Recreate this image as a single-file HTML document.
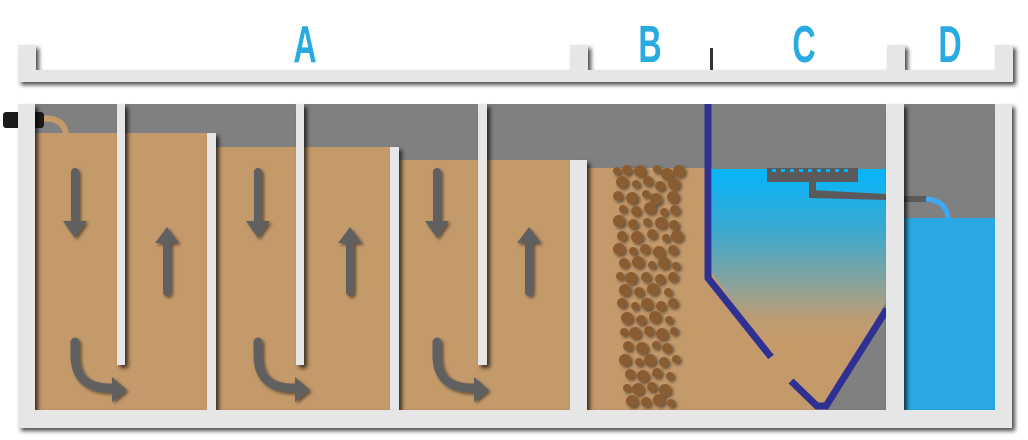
<!DOCTYPE html>
<html><head><meta charset="utf-8"><style>
html,body{margin:0;padding:0;background:#fff;}
svg{display:block}
</style></head><body>
<svg width="1028" height="440" viewBox="0 0 1028 440" xmlns="http://www.w3.org/2000/svg">
<defs>
<filter id="sh" x="-20%" y="-20%" width="140%" height="140%"><feDropShadow dx="3" dy="3" stdDeviation="2" flood-color="#000" flood-opacity="0.7"/></filter>
<filter id="sh2" x="-50%" y="-50%" width="200%" height="200%"><feDropShadow dx="2" dy="2" stdDeviation="1.5" flood-color="#000" flood-opacity="0.5"/></filter>
<linearGradient id="wg" x1="0" y1="0" x2="0" y2="1">
<stop offset="0" stop-color="#05b5fc"/><stop offset="0.25" stop-color="#3aaad0"/><stop offset="0.45" stop-color="#7fa4a2"/><stop offset="0.62" stop-color="#bd9c74"/><stop offset="0.7" stop-color="#c49a6b"/><stop offset="1" stop-color="#c49a6b"/></linearGradient>
</defs>
<g filter="url(#sh)" fill="#e6e6e6">
<rect x="18" y="70" width="995" height="12"/>
<rect x="18" y="45" width="18" height="30"/>
<rect x="570" y="45" width="18" height="30"/>
<rect x="887" y="45" width="18" height="30"/>
<rect x="995" y="45" width="18" height="30"/>
</g>
<rect x="710" y="48" width="3" height="22" fill="#333"/>
<g font-family="Liberation Sans, sans-serif" font-size="52" font-weight="bold" fill="#29abe2" text-anchor="middle">
<text transform="translate(305,62) scale(0.62,1)">A</text>
<text transform="translate(650,62) scale(0.62,1)">B</text>
<text transform="translate(804,62) scale(0.62,1)">C</text>
<text transform="translate(950,62) scale(0.62,1)">D</text>
</g>
<rect x="35" y="104" width="960" height="306" fill="#808080"/>
<rect x="35" y="133" width="175" height="277" fill="#c49a6b"/>
<rect x="213" y="147" width="180" height="263" fill="#c49a6b"/>
<rect x="396" y="160" width="178" height="250" fill="#c49a6b"/>
<rect x="584" y="168" width="128" height="242" fill="#c49a6b"/>
<rect x="712" y="169" width="175" height="241" fill="url(#wg)"/>
<polygon points="710,270 771,357 820,410 710,410" fill="#c49a6b"/>
<polygon points="887,300 887,410 826,410" fill="#808080"/>
<rect x="904" y="218" width="91" height="192" fill="#29a9e1"/>
<path d="M40,119 Q62,116 66,133" stroke="#c49a6b" stroke-width="6" fill="none"/>
<rect x="3" y="112" width="41" height="16" rx="3" fill="#1a1a1a"/>
<g id="arr" fill="#606060" stroke="#606060" filter="url(#sh2)">
<line x1="75" y1="172" x2="75" y2="222" stroke-width="8" stroke-linecap="round"/>
<polygon points="63,221 87,221 75,238" stroke="none"/>
<line x1="167" y1="292" x2="167" y2="242" stroke-width="8" stroke-linecap="round"/>
<polygon points="155,243 179,243 167,227" stroke="none"/>
<path d="M75,342 L75,355 Q75,388 110,388 L114,388" stroke-width="9" fill="none" stroke-linecap="round"/>
<polygon points="112,377 127,390 112,402" stroke="none"/>
</g>
<use href="#arr" x="183"/>
<use href="#arr" x="362"/>
<g fill="#8a5c33" filter="url(#sh2)">
<circle cx="617" cy="171" r="4"/><circle cx="627" cy="170" r="5"/><circle cx="640" cy="171" r="6"/><circle cx="657" cy="169" r="4"/><circle cx="667" cy="174" r="6"/><circle cx="679" cy="171" r="6"/>
<circle cx="622" cy="182" r="6"/><circle cx="636" cy="184" r="4"/><circle cx="648" cy="181" r="5"/><circle cx="660" cy="186" r="5"/><circle cx="674" cy="184" r="6"/>
<circle cx="618" cy="196" r="5"/><circle cx="632" cy="198" r="6"/><circle cx="646" cy="194" r="4"/><circle cx="656" cy="199" r="6"/><circle cx="673" cy="197" r="6"/>
<circle cx="623" cy="209" r="4"/><circle cx="636" cy="211" r="5"/><circle cx="650" cy="208" r="6"/><circle cx="664" cy="212" r="4"/><circle cx="675" cy="210" r="5"/>
<circle cx="619" cy="221" r="6"/><circle cx="633" cy="224" r="5"/><circle cx="647" cy="222" r="4"/><circle cx="661" cy="223" r="6"/><circle cx="674" cy="225" r="5"/>
<circle cx="622" cy="236" r="5"/><circle cx="637" cy="237" r="6"/><circle cx="652" cy="234" r="5"/><circle cx="666" cy="238" r="4"/><circle cx="677" cy="236" r="6"/>
<circle cx="619" cy="249" r="6"/><circle cx="633" cy="251" r="4"/><circle cx="645" cy="249" r="5"/><circle cx="659" cy="252" r="6"/><circle cx="673" cy="250" r="5"/>
<circle cx="624" cy="263" r="5"/><circle cx="638" cy="262" r="6"/><circle cx="652" cy="265" r="4"/><circle cx="664" cy="263" r="6"/><circle cx="676" cy="266" r="4"/>
<circle cx="620" cy="276" r="4"/><circle cx="631" cy="278" r="6"/><circle cx="646" cy="277" r="5"/><circle cx="660" cy="279" r="5"/><circle cx="673" cy="277" r="5"/>
<circle cx="625" cy="290" r="6"/><circle cx="639" cy="292" r="5"/><circle cx="653" cy="289" r="6"/><circle cx="668" cy="292" r="4"/>
<circle cx="622" cy="303" r="5"/><circle cx="635" cy="306" r="4"/><circle cx="647" cy="304" r="6"/><circle cx="661" cy="306" r="5"/><circle cx="673" cy="303" r="5"/>
<circle cx="627" cy="318" r="6"/><circle cx="641" cy="320" r="5"/><circle cx="655" cy="317" r="6"/><circle cx="669" cy="320" r="4"/>
<circle cx="624" cy="332" r="4"/><circle cx="635" cy="333" r="6"/><circle cx="649" cy="331" r="5"/><circle cx="662" cy="334" r="6"/><circle cx="674" cy="331" r="4"/>
<circle cx="628" cy="346" r="5"/><circle cx="642" cy="348" r="6"/><circle cx="656" cy="345" r="4"/><circle cx="667" cy="348" r="5"/>
<circle cx="625" cy="360" r="6"/><circle cx="639" cy="362" r="4"/><circle cx="650" cy="360" r="6"/><circle cx="664" cy="362" r="5"/><circle cx="676" cy="359" r="4"/>
<circle cx="630" cy="374" r="5"/><circle cx="643" cy="376" r="6"/><circle cx="657" cy="373" r="5"/><circle cx="670" cy="376" r="4"/>
<circle cx="627" cy="388" r="4"/><circle cx="638" cy="389" r="6"/><circle cx="652" cy="387" r="5"/><circle cx="665" cy="390" r="6"/>
<circle cx="632" cy="401" r="6"/><circle cx="646" cy="402" r="5"/><circle cx="659" cy="400" r="6"/><circle cx="671" cy="403" r="4"/>
</g>
<g stroke="#2e3192" stroke-width="7" fill="none">
<polyline points="708,104 708,278 771,357"/>
<polyline points="791,381 817,406 826,406 887,309"/>
</g>
<g fill="#5a5a5a">
<rect x="767" y="168" width="91" height="14"/>
<rect x="809" y="182" width="7" height="16"/>
<polygon points="809,190 887,194 887,200 809,198"/>
<rect x="904" y="196" width="23" height="6"/>
</g>
<g fill="#05b5fc">
<rect x="772" y="169" width="4" height="3"/><rect x="781" y="169" width="4" height="3"/><rect x="790" y="169" width="4" height="3"/><rect x="799" y="169" width="4" height="3"/><rect x="808" y="169" width="4" height="3"/><rect x="817" y="169" width="4" height="3"/><rect x="826" y="169" width="4" height="3"/><rect x="835" y="169" width="4" height="3"/><rect x="844" y="169" width="4" height="3"/>
</g>
<path d="M926,199 Q946,200 948,218" stroke="#3fa9f5" stroke-width="5" fill="none"/>
<g fill="#e6e6e6" filter="url(#sh)">
<rect x="18" y="104" width="17" height="324"/>
<rect x="995" y="104" width="17" height="324"/>
<rect x="18" y="410" width="994" height="18"/>
<rect x="117" y="104" width="8" height="261"/>
<rect x="296" y="104" width="8" height="261"/>
<rect x="478" y="104" width="9" height="261"/>
<rect x="207" y="133" width="9" height="277"/>
<rect x="390" y="147" width="9" height="263"/>
<rect x="570" y="160" width="17" height="250"/>
<rect x="886" y="104" width="18" height="306"/>
</g>
</svg>
</body></html>
